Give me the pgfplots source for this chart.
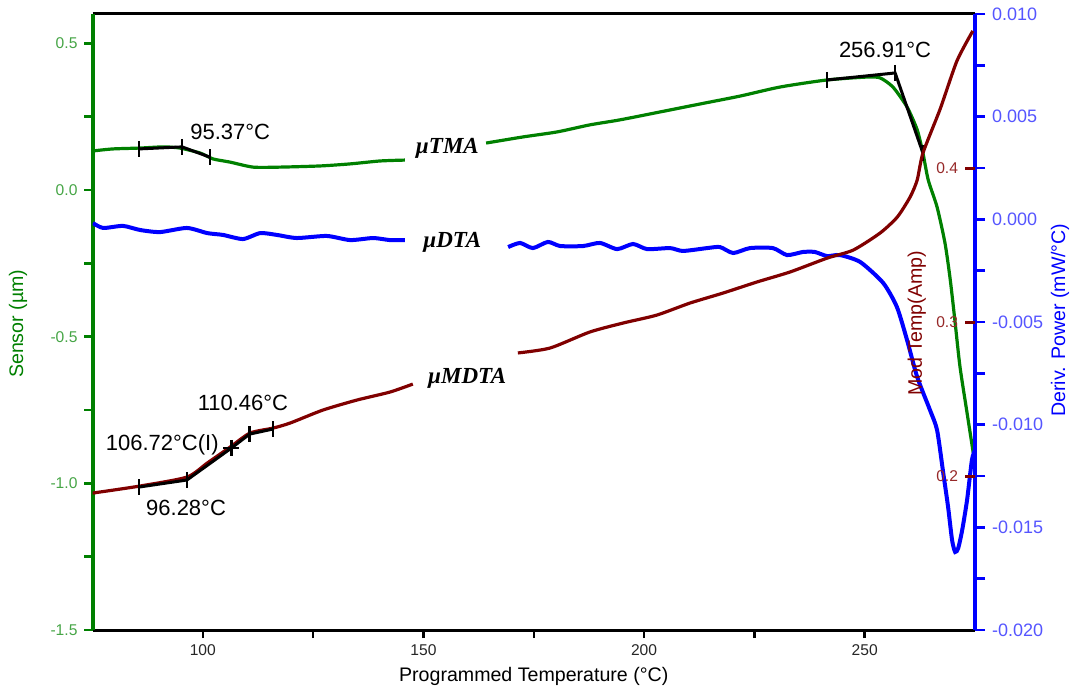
\documentclass[border=0pt]{standalone}
\usepackage{fontspec}
\setmainfont{Liberation Sans}
\newfontfamily\tnr{Liberation Serif}
\usepackage{pgfplots}
\pgfplotsset{compat=1.18}
\definecolor{tgreen}{RGB}{0,128,0}
\definecolor{tgreenl}{RGB}{70,165,70}
\definecolor{tblue}{RGB}{0,0,255}
\definecolor{tbluel}{RGB}{85,85,255}
\definecolor{tmaroon}{RGB}{128,0,0}
\definecolor{tmaroonl}{RGB}{150,40,40}
\newcommand{\tickfont}{\fontsize{7.8}{9}\selectfont}
\newcommand{\rtickfont}{\fontsize{9}{10}\selectfont}
\newcommand{\labfont}{\fontsize{9.8}{12}\selectfont}
\newcommand{\annfont}{\fontsize{11}{13}\selectfont}
\newcommand{\curvefont}{\tnr\bfseries\itshape\fontsize{11.5}{13}\selectfont}
\pgfplotsset{
  base/.style={scale only axis, width=441.25pt, height=308pt, xmin=75, xmax=275,
    at={(0,0)}, anchor=south west, tick align=outside},
}
\begin{document}
\begin{tikzpicture}
\useasboundingbox (-46.25pt,-28pt) rectangle (490.75pt,315pt);
% ---------------- left axis: Sensor ----------------
\begin{axis}[base, ymin=-1.5, ymax=0.6,
  axis x line*=box, axis y line*=left,
  x axis line style={black, line width=1.5pt},
  y axis line style={tgreen, line width=2pt},
  xtick={100,150,200,250}, xticklabels={100,150,200,250},
  minor xtick={125,175,225}, xtick pos=left,
  ytick={-1.5,-1,-0.5,0,0.5}, yticklabels={-1.5,-1.0,-0.5,0.0,0.5},
  minor ytick={-1.25,-0.75,-0.25,0.25},
  major tick length=4pt, minor tick length=4pt,
  x tick style={black, line width=1.2pt},
  y tick style={tgreen, line width=1.2pt},
  xticklabel style={font=\tickfont, text=black!85},
  yticklabel style={font=\tickfont, text=tgreenl},
  xlabel={Programmed Temperature (°C)},
  ylabel={Sensor (µm)},
  every axis x label/.style={at={(axis description cs:0.5,-0.0747)}, anchor=center, font=\labfont, text=black},
  every axis y label/.style={at={(axis description cs:-0.0844,0.497)}, rotate=90, anchor=center, font=\labfont, text=tgreen},
]
\addplot[tgreen, line width=1.6pt, smooth, tension=0.4] coordinates {
(75.0,0.133) (79.6,0.140) (85.8,0.143) (91.0,0.147) (94.8,0.143) (99.4,0.126)
(102.3,0.106) (106.2,0.095) (111.4,0.078) (117.5,0.078) (126.6,0.082)
(133.4,0.089) (140.2,0.099) (145.8,0.102)};
\addplot[tgreen, line width=1.6pt, smooth, tension=0.4] coordinates {
(164.2,0.160) (172.6,0.181) (180.3,0.198) (187.7,0.222) (194.5,0.239)
(203.6,0.266) (212.6,0.293) (221.7,0.320) (230.8,0.351) (241.4,0.375)
(250.5,0.385) (253.5,0.382) (256.4,0.351) (259.6,0.283) (261.9,0.205)
(263.2,0.126) (264.4,0.034) (266.4,-0.058) (268.2,-0.181) (269.4,-0.307)
(270.5,-0.453) (271.6,-0.603) (273.2,-0.760) (274.6,-0.896)};
\addplot[black, line width=1.5pt, mark=|, mark size=4pt, mark options={line width=1.2pt}] coordinates {
(85.5,0.140) (95.3,0.147) (101.6,0.112)};
\addplot[black, line width=1.5pt, mark=|, mark size=4pt, mark options={line width=1.2pt}] coordinates {
(241.4,0.375) (256.9,0.399) (263.2,0.126)};
\node[font=\annfont] at (axis cs:106.2,0.198) {95.37°C};
\node[font=\annfont] at (axis cs:254.6,0.477) {256.91°C};
\node[font=\curvefont] at (axis cs:155.4,0.143) {µTMA};
\node[font=\curvefont] at (axis cs:156.5,-0.177) {µDTA};
\node[font=\curvefont] at (axis cs:159.9,-0.641) {µMDTA};
\end{axis}
% ---------------- right axis: Deriv. Power ----------------
\begin{axis}[base, ymin=-0.02, ymax=0.01,
  axis x line=none, axis y line*=right, xtick=\empty,
  y axis line style={tblue, line width=2.2pt},
  ytick={-0.02,-0.015,-0.01,-0.005,0,0.005,0.01},
  yticklabels={-0.020,-0.015,-0.010,-0.005,0.000,0.005,0.010},
  minor ytick={-0.0175,-0.0125,-0.0075,-0.0025,0.0025,0.0075},
  major tick length=5pt, minor tick length=5pt,
  y tick style={tblue, line width=1.2pt},
  yticklabel style={font=\rtickfont, text=tbluel},
  ylabel={Deriv. Power (mW/°C)},
  every axis y label/.style={at={(axis description cs:1.0963,0.503)}, rotate=90, anchor=center, font=\labfont, text=tblue},
]
\addplot[tblue, line width=2pt, smooth, tension=0.4] coordinates {
(75.1,-0.00018) (77.4,-0.00042) (81.9,-0.00032) (85.8,-0.00052) (90.3,-0.00062)
(96.4,-0.00042) (101.0,-0.00067) (104.6,-0.00076) (109.1,-0.00096) (113.0,-0.00067)
(116.8,-0.00076) (121.3,-0.00091) (128.1,-0.00081) (133.4,-0.00101) (138.6,-0.00091)
(142.4,-0.00101) (145.8,-0.00101)};
\addplot[tblue, line width=2pt, smooth, tension=0.4] coordinates {
(169.2,-0.00135) (171.9,-0.00115) (174.8,-0.00140) (178.2,-0.00110) (181.0,-0.00130)
(186.2,-0.00130) (190.0,-0.00115) (193.9,-0.00145) (197.5,-0.00120) (200.7,-0.00145)
(205.9,-0.00140) (208.8,-0.00154) (214.3,-0.00140) (217.2,-0.00135) (220.2,-0.00164)
(224.0,-0.00140) (229.2,-0.00140) (232.4,-0.00174) (236.0,-0.00159) (238.7,-0.00159)
(241.5,-0.00179) (244.4,-0.00174) (249.0,-0.00208) (254.2,-0.00310) (257.3,-0.00427)
(259.6,-0.00588) (261.9,-0.00768) (264.8,-0.00929) (266.4,-0.01026) (267.8,-0.01235)
(268.9,-0.01401) (269.8,-0.01562) (270.5,-0.01620) (271.2,-0.01601) (272.1,-0.01513)
(273.2,-0.01367) (274.3,-0.01172) (275.0,-0.01123)};
\end{axis}
% ---------------- inner axis: Mod Temp(Amp) ----------------
\begin{axis}[base, ymin=0.1, ymax=0.5,
  axis x line=none, axis y line*=right, xtick=\empty,
  y axis line style={draw=none},
  ytick={0.2,0.3,0.4}, yticklabels={0.2,0.3,0.4},
  tick align=inside, major tick length=5pt,
  y tick style={tmaroon, line width=1.5pt},
  yticklabel style={font=\tickfont, text=tmaroonl, anchor=east, xshift=-5pt},
  ylabel={Mod Temp(Amp)},
  every axis y label/.style={at={(axis description cs:0.934,0.498)}, rotate=90, anchor=center, font=\labfont, text=tmaroon},
]
\addplot[tmaroon, line width=1.6pt, smooth, tension=0.4] coordinates {
(75.0,0.1889) (85.8,0.1935) (96.4,0.1993) (101.0,0.2084) (106.2,0.2188)
(110.7,0.2279) (115.9,0.2311) (119.8,0.2344) (127.2,0.2428) (134.9,0.2493)
(142.4,0.2545) (147.6,0.2597)};
\addplot[tmaroon, line width=1.6pt, smooth, tension=0.4] coordinates {
(171.4,0.2799) (178.7,0.2831) (187.7,0.2935) (195.2,0.2993) (202.9,0.3045)
(210.4,0.3123) (217.9,0.3188) (225.6,0.3260) (233.1,0.3325) (241.5,0.3415)
(247.4,0.3467) (253.5,0.3578) (257.4,0.3682) (260.3,0.3812) (261.9,0.3922)
(263.2,0.4097) (267.1,0.4383) (270.9,0.4695) (274.5,0.4890)};
\addplot[black, line width=1.5pt, mark=|, mark size=4pt, mark options={line width=1.2pt}, mark indices={1,2,4,5}] coordinates {
(85.5,0.1928) (96.4,0.1974) (106.5,0.2182) (110.6,0.2272) (115.9,0.2305)};
\addplot[black, only marks, mark=+, mark size=4pt, mark options={line width=1.2pt}] coordinates {(106.5,0.2182)};
\node[font=\annfont] at (axis cs:109.1,0.2474) {110.46°C};
\node[font=\annfont] at (axis cs:90.8,0.2201) {106.72°C(I)};
\node[font=\annfont] at (axis cs:96.2,0.1792) {96.28°C};
\end{axis}
\end{tikzpicture}
\end{document}
